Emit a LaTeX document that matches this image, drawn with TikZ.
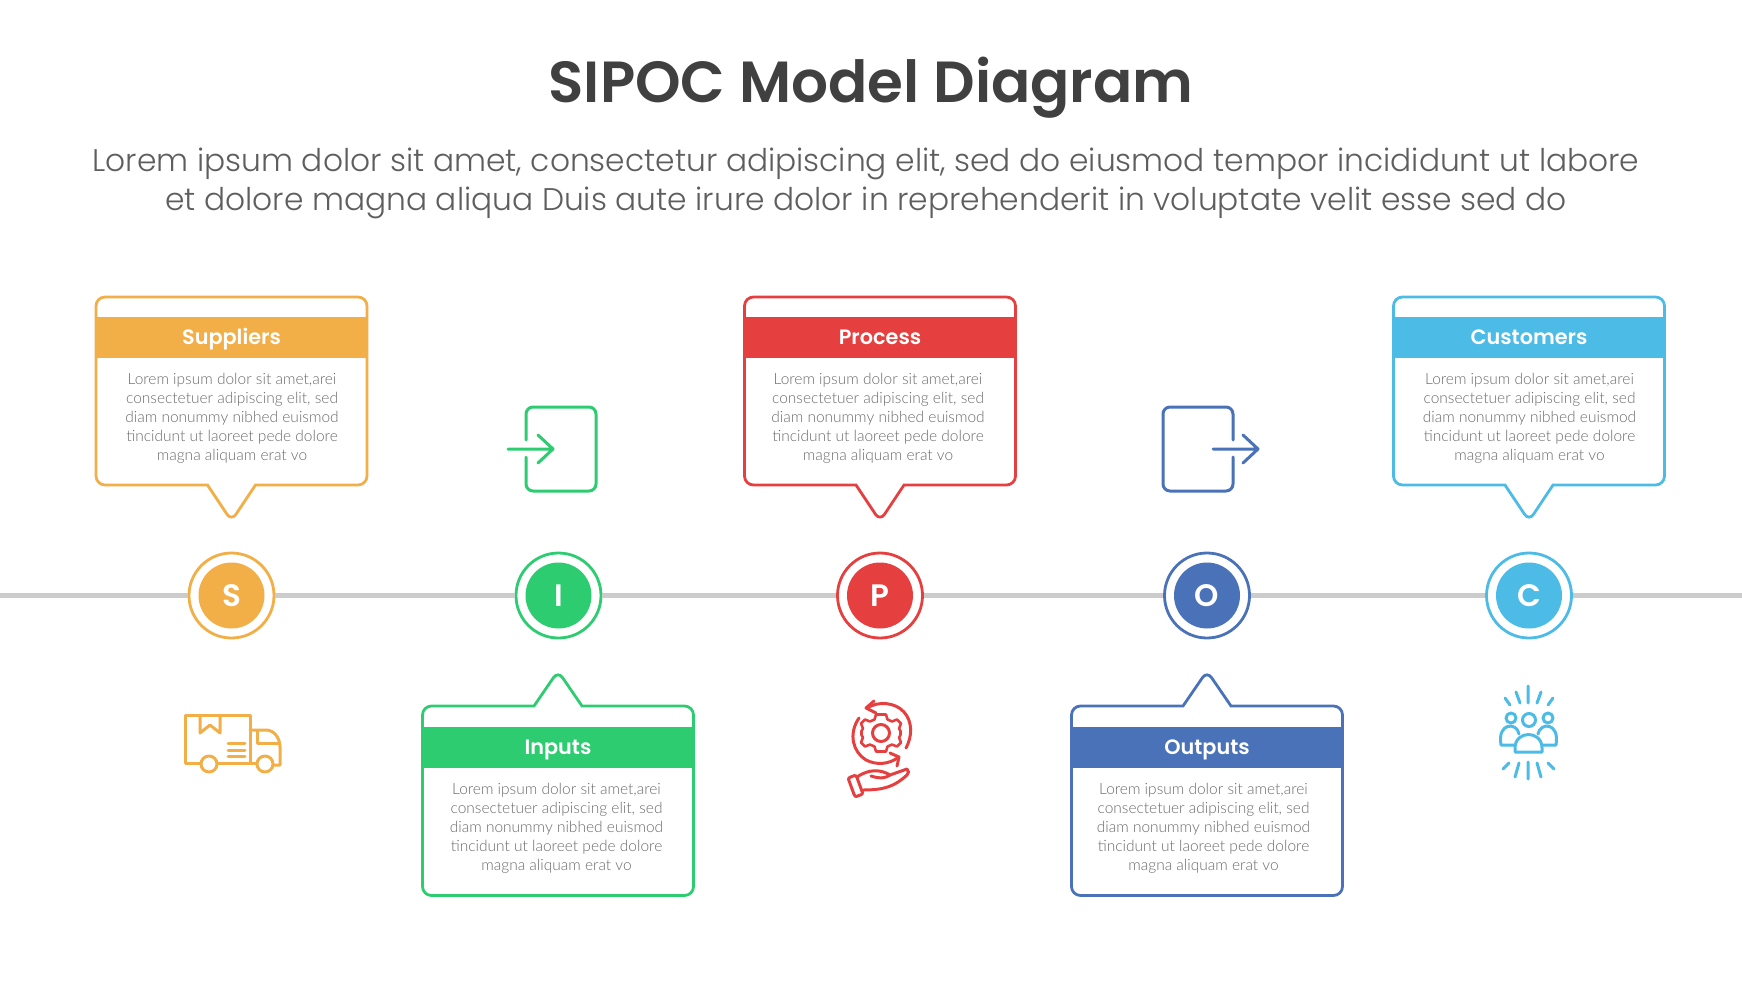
\documentclass[tikz,border=0pt]{standalone}
\usepackage{fontspec}
\setmainfont{Lato Light}
\newfontfamily\titlefont{Poppins SemiBold}
\newfontfamily\subfont{Poppins Light}
\usetikzlibrary{calc,positioning}
\definecolor{cS}{HTML}{F2AE47}
\definecolor{cI}{HTML}{2ECC71}
\definecolor{cP}{HTML}{E5403F}
\definecolor{cO}{HTML}{4A72B8}
\definecolor{cC}{HTML}{4CBBE6}
\definecolor{inktitle}{HTML}{404040}
\definecolor{inksub}{HTML}{5E5E5E}
\definecolor{inkbody}{HTML}{6A6A6A}
\definecolor{track}{HTML}{CCCCCC}
\newcommand{\bubbletext}{Lorem ipsum dolor sit amet,arei\\consectetuer adipiscing elit, sed\\diam nonummy nibhed euismod\\tincidunt ut laoreet pede dolore\\magna aliquam erat vo}
\tikzset{
    mainhead/.style={
    font=\titlefont\fontsize{58}{64}\selectfont,text=inktitle,inner sep=0pt
    },
    subhead/.style={
    font=\subfont\fontsize{31.3}{38.7}\selectfont,text=inksub,align=center,inner sep=0pt
    },
    header/.style={
    rectangle,minimum width=271pt,minimum height=41pt,inner sep=0pt,text height=15pt,text depth=1pt,
    font=\titlefont\fontsize{20.8}{24}\selectfont,text=white
    },
    body/.style={
    font=\fontsize{15.5}{19}\selectfont,text=inkbody,align=center,inner sep=0pt
    },
    outerring/.style={
    circle,minimum size=85pt,inner sep=0pt,line width=2.8pt,draw,fill=white
    },
    lettermark/.style={
    circle,minimum size=66pt,inner sep=0pt,text=white,
    font=\titlefont\fontsize{31}{34}\selectfont
    },
    icon/.style={
    line width=3pt,line cap=round,line join=round
    },
    rail/.style={
    draw=track,line width=5.5pt
    },
    bubbledown/.pic={
      \draw[line width=2.8pt,rounded corners=9pt,pic actions]
        (-135.5,297) -- (135.5,297) -- (135.5,485)
        [sharp corners] -- (24,485) [rounded corners=8pt] -- (0,521)
        [sharp corners] -- (-24,485) [rounded corners=9pt] -- (-135.5,485) -- cycle;
    },
    bubbleup/.pic={
      \draw[line width=2.8pt,rounded corners=9pt,pic actions]
        (-135.5,895.5) -- (135.5,895.5) -- (135.5,706)
        [sharp corners] -- (24,706) [rounded corners=8pt] -- (0,671)
        [sharp corners] -- (-24,706) [rounded corners=9pt] -- (-135.5,706) -- cycle;
    },
}
\begin{document}
\begin{tikzpicture}[x=1pt,y=-1pt]
  \useasboundingbox (0,0) rectangle (1742,980);

  \node[mainhead] (title) at (871,88) {SIPOC Model Diagram};
  \node[subhead] (subtitle) at (866,183.5) {Lorem ipsum dolor sit amet, consectetur adipiscing elit, sed do eiusmod tempor incididunt ut labore\\et dolore magna aliqua Duis aute irure dolor in reprehenderit in voluptate velit esse sed do};

  % timeline
  \coordinate (railL) at (0,595.5);
  \coordinate (railR) at (1742,595.5);
  \node[outerring,draw=cS] (ringS) at (231.5,595.5) {};
  \node[outerring,draw=cI] (ringI) at (558.5,595.5) {};
  \node[outerring,draw=cP] (ringP) at (880,595.5) {};
  \node[outerring,draw=cO] (ringO) at (1207,595.5) {};
  \node[outerring,draw=cC] (ringC) at (1529,595.5) {};
  \node[lettermark,fill=cS] (markS) at (ringS) {S};
  \node[lettermark,fill=cI] (markI) at (ringI) {I};
  \node[lettermark,fill=cP] (markP) at (ringP) {P};
  \node[lettermark,fill=cO] (markO) at (ringO) {O};
  \node[lettermark,fill=cC] (markC) at (ringC) {C};
  \path[rail]
    (railL) edge (ringS)
    (ringS) edge (ringI)
    (ringI) edge (ringP)
    (ringP) edge (ringO)
    (ringO) edge (ringC)
    (ringC) edge (railR);

  % bubbles
  \pic[draw=cS] at (231.5,0) {bubbledown};
  \pic[draw=cP] at (880,0) {bubbledown};
  \pic[draw=cC] at (1529,0) {bubbledown};
  \pic[draw=cI] at (558,0) {bubbleup};
  \pic[draw=cO] at (1207,0) {bubbleup};

  \node[header,fill=cS] (headS) at (231.5,337.5) {Suppliers};
  \node[header,fill=cP] (headP) at (880,337.5) {Process};
  \node[header,fill=cC] (headC) at (1529,337.5) {Customers};
  \node[header,fill=cI] (headI) at (558,747.5) {Inputs};
  \node[header,fill=cO] (headO) at (1207,747.5) {Outputs};

  \node[body] (bodyS) at (232,418.5) {\bubbletext};
  \node[body] (bodyP) at (878,418.5) {\bubbletext};
  \node[body] (bodyC) at (1529.5,418.5) {\bubbletext};
  \node[body] (bodyI) at (556.5,828.5) {\bubbletext};
  \node[body] (bodyO) at (1203.5,828.5) {\bubbletext};

  % door in
  \draw[icon,cI,rounded corners=7pt] (526,440) -- (526,407) -- (596,407) -- (596,491) -- (526,491) -- (526,457);
  \draw[icon,cI] (508,449) -- (553,449) (538,435) -- (553,449) -- (538,463);
  % door out
  \draw[icon,cO,rounded corners=7pt] (1233,440) -- (1233,407) -- (1163,407) -- (1163,491) -- (1233,491) -- (1233,457);
  \draw[icon,cO] (1213,449) -- (1258,449) (1243,435) -- (1258,449) -- (1243,463);

  % truck
  \draw[icon,cS] (200,763) -- (185,763) -- (185,715) -- (250,715) -- (250,763) -- (218,763);
  \draw[icon,cS] (200,715) -- (200,733) -- (210,725) -- (220,733) -- (220,715);
  \draw[icon,cS] (228,743) -- (245,743) (228,750) -- (245,750) (228,756) -- (245,756);
  \draw[icon,cS] (250,730) -- (266,730) .. controls (274,730) and (280,738) .. (280,747) -- (280,765) -- (274,765);
  \draw[icon,cS] (257,731) -- (257,743) -- (279,743);
  \draw[icon,cS] (250,763) -- (256,763);
  \draw[icon,cS] (209,764) circle (8);
  \draw[icon,cS] (265,764) circle (8);

  % gear and hand
  \draw[icon,cP] (881,733) circle (8.5);
  \draw[icon,cP,line width=2.6pt]
    (876,714.5) -- (886,714.5) -- (887.5,719.5) -- (892,721.5)
    -- (897,719.5) -- (901,723.5) -- (899,728.5) -- (900.5,731) -- (900.5,735)
    -- (899,737.5) -- (901,742.5) -- (897,746.5) -- (892,744.5) -- (887.5,746.5) -- (886,751.5)
    -- (876,751.5) -- (874.5,746.5) -- (870,744.5) -- (865,746.5) -- (861,742.5) -- (863,737.5)
    -- (861.5,735) -- (861.5,731) -- (863,728.5) -- (861,723.5) -- (865,719.5)
    -- (870,721.5) -- (874.5,719.5) -- cycle;
  \draw[icon,cP] (867,708) .. controls (878,701) and (895,702) .. (904,712) .. controls (913,722) and (912,737) .. (906,748);
  \draw[icon,cP] (874,701) -- (866,708) -- (876,713);
  \draw[icon,cP] (859,718) .. controls (848,734) and (853,752) .. (866,760) .. controls (876,765) and (888,765) .. (899,757);
  \draw[icon,cP] (890,753) -- (899,757) -- (897,766);
  \draw[icon,cP,rounded corners=2pt] (848,778) -- (856,775) -- (863,794) -- (855,797) -- cycle;
  \draw[icon,cP] (857,777) .. controls (870,768) and (882,770) .. (890,775) -- (907,769) .. controls (909,771) and (909,773) .. (907,775)
    .. controls (895,786) and (885,790) .. (863,790);
  \draw[icon,cP] (871,776) .. controls (880,779) and (886,778) .. (890,775);

  % people
  \draw[icon,cC] (1529,720) circle (6.5);
  \draw[icon,cC] (1511,718) circle (5);
  \draw[icon,cC] (1548,718) circle (5);
  \draw[icon,cC] (1515,752) -- (1542,752) -- (1542,748) .. controls (1542,730) and (1515,730) .. (1515,748) -- cycle;
  \draw[icon,cC] (1515,745) -- (1501,745) .. controls (1497,722) and (1517,722) .. (1519,734);
  \draw[icon,cC] (1542,745) -- (1556,745) .. controls (1560,722) and (1540,722) .. (1538,734);
  \draw[icon,cC] (1528,686) -- (1528,703) (1516,692) -- (1520,703) (1505,698) -- (1510,705) (1541,692) -- (1537,703) (1553,698) -- (1548,705);
  \draw[icon,cC] (1528,762) -- (1528,779) (1519,763) -- (1515,777) (1509,763) -- (1503,769) (1537,763) -- (1541,777) (1548,763) -- (1554,769);
\end{tikzpicture}
\end{document}
